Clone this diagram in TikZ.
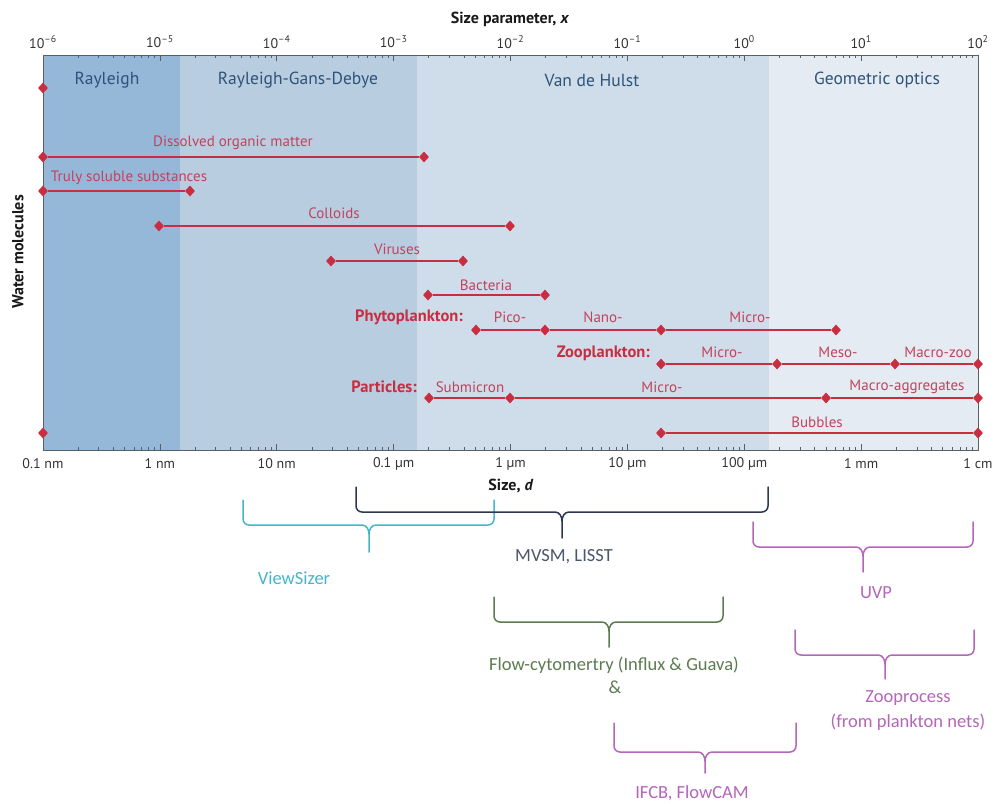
\documentclass[tikz,border=0pt]{standalone}
\usepackage{fontspec}
\setmainfont{PT Sans}
\newfontfamily\calfont{Carlito}
\usetikzlibrary{shapes.geometric}

\definecolor{rayc}{HTML}{96B8D8}
\definecolor{rgdc}{HTML}{B9CDE0}
\definecolor{vdhc}{HTML}{CFDDEA}
\definecolor{geoc}{HTML}{E4EBF3}
\definecolor{regc}{HTML}{2E5378}
\definecolor{axisc}{HTML}{5A5F66}
\definecolor{barc}{HTML}{C92D40}
\definecolor{labc}{HTML}{C2425C}
\definecolor{cyanc}{HTML}{45B6CB}
\definecolor{navyc}{HTML}{2B3850}
\definecolor{greenc}{HTML}{5C7B50}
\definecolor{magc}{HTML}{B466BA}

% bracket spanning an instrument's size range:
% #1 colour, #2 left, #3 right, #4 centre, #5 top, #6 bar level, #7 stem end
\newcommand\rangebrace[7]{%
  \draw[brc, #1] (#2,#5) -- (#2,#6-6) to[out=-90,in=180] (#2+6,#6) -- (#4-7,#6)
        to[out=0,in=90] (#4,#6+9) -- (#4,#7);
  \draw[brc, #1] (#3,#5) -- (#3,#6-6) to[out=-90,in=0] (#3-6,#6) -- (#4+7,#6)
        to[out=180,in=90] (#4,#6+9);
}

\tikzset{
  dia/.style={diamond, fill=barc, inner sep=0pt, minimum width=10pt, minimum height=11pt},
  rbar/.style={draw=barc, line width=2.6pt},
  blab/.style={text=labc, font=\fontsize{15}{17}\selectfont, inner sep=0pt},
  grp/.style={text=barc, font=\fontsize{16.5}{18}\selectfont\bfseries, inner sep=0pt},
  reg/.style={text=regc, font=\fontsize{17.5}{20}\selectfont, inner sep=0pt},
  tickline/.style={draw=axisc, line width=0.7pt},
  ticklab/.style={font=\fontsize{14}{16}\selectfont, text=black!80, inner sep=0pt},
  axtitle/.style={font=\fontsize{16}{18}\selectfont\bfseries, text=black!90, inner sep=0pt},
  brlab/.style={font=\calfont\fontsize{18.5}{22}\selectfont, inner sep=0pt},
  brc/.style={line width=1.5pt, line cap=round, line join=round}
}

\begin{document}
\begin{tikzpicture}[x=1pt,y=-1pt]
\useasboundingbox (0,0) rectangle (995,803);
\fill[white] (0,0) rectangle (995,803);

% scattering regimes
\fill[rayc] (43,55) rectangle (180,450);
\fill[rgdc] (180,55) rectangle (417,450);
\fill[vdhc] (417,55) rectangle (769,450);
\fill[geoc] (769,55) rectangle (978,450);
\draw[axisc, line width=1pt] (43,55) rectangle (978,450);

\node[reg] (r1) at (107,80) {Rayleigh};
\node[reg] (r2) at (298,80) {Rayleigh-Gans-Debye};
\node[reg] (r3) at (592,80) {Van de Hulst};
\node[reg] (r4) at (877,80) {Geometric optics};

% logarithmic ticks on both axes
\foreach \d in {0,...,7}{
  \foreach \m in {2,...,9}{
    \draw[tickline] ({43+116.875*(\d+ln(\m)/ln(10))},450) -- ++(0,-3);
    \draw[tickline] ({43+116.875*(\d+ln(\m)/ln(10))},55) -- ++(0,3);
  }
}
\foreach \d in {1,...,7}{
  \draw[tickline] ({43+116.875*\d},450) -- ++(0,-6);
  \draw[tickline] ({43+116.875*\d},55) -- ++(0,6);
}

% top axis: size parameter
\node[axtitle] (xt) at (510,19) {Size parameter, \textit{x}};
\foreach \k/\e in {0/–6,1/–5,2/–4,3/–3,4/–2,5/–1,6/0,7/1,8/2}{
  \node[ticklab] (tx\k) at ({43+116.875*\k},42) {10\textsuperscript{\e}};
}

% bottom axis: size
\foreach \k/\t in {0/0.1 nm,1/1 nm,2/10 nm,3/0.1 µm,4/1 µm,5/10 µm,6/100 µm,7/1 mm,8/1 cm}{
  \node[ticklab] (bx\k) at ({43+116.875*\k},464) {\t};
}
\node[axtitle] (bt) at (511,486) {Size, \textit{d}};

\node[axtitle, rotate=90] (wm) at (18,252) {Water molecules};

% size ranges
\node[dia] (w1) at (43,88) {};
\node[dia] (w2) at (43,433) {};

\node[dia] (dom1) at (43,157) {};
\node[dia] (dom2) at (424,157) {};
\draw[rbar] (dom1) -- (dom2);
\node[blab] (doml) at (233,143) {Dissolved organic matter};

\node[dia] (ts1) at (43,191) {};
\node[dia] (ts2) at (190,191) {};
\draw[rbar] (ts1) -- (ts2);
\node[blab] (tsl) at (129,178) {Truly soluble substances};

\node[dia] (co1) at (159,226) {};
\node[dia] (co2) at (510,226) {};
\draw[rbar] (co1) -- (co2);
\node[blab] (col) at (334,213) {Colloids};

\node[dia] (vi1) at (331,261) {};
\node[dia] (vi2) at (463,261) {};
\draw[rbar] (vi1) -- (vi2);
\node[blab] (vil) at (397,249) {Viruses};

\node[dia] (ba1) at (428,295) {};
\node[dia] (ba2) at (545,295) {};
\draw[rbar] (ba1) -- (ba2);
\node[blab] (bal) at (486,285) {Bacteria};

\node[grp, anchor=east] (phy) at (463,317) {Phytoplankton:};
\node[dia] (ph1) at (476,330) {};
\node[dia] (ph2) at (545,330) {};
\node[dia] (ph3) at (661,330) {};
\node[dia] (ph4) at (836,330) {};
\draw[rbar] (ph1) -- (ph2);
\draw[rbar] (ph2) -- (ph3);
\draw[rbar] (ph3) -- (ph4);
\node[blab] (phl1) at (510,317) {Pico-};
\node[blab] (phl2) at (603,317) {Nano-};
\node[blab] (phl3) at (750,317) {Micro-};

\node[grp, anchor=east] (zoo) at (650,353) {Zooplankton:};
\node[dia] (zo1) at (661,364) {};
\node[dia] (zo2) at (777,364) {};
\node[dia] (zo3) at (895,364) {};
\node[dia] (zo4) at (978,364) {};
\draw[rbar] (zo1) -- (zo2);
\draw[rbar] (zo2) -- (zo3);
\draw[rbar] (zo3) -- (zo4);
\node[blab] (zol1) at (722,352) {Micro-};
\node[blab] (zol2) at (838,352) {Meso-};
\node[blab] (zol3) at (938,352) {Macro-zoo};

\node[grp, anchor=east] (par) at (417,387) {Particles:};
\node[dia] (pa1) at (429,398) {};
\node[dia] (pa2) at (510,398) {};
\node[dia] (pa3) at (826,398) {};
\node[dia] (pa4) at (978,398) {};
\draw[rbar] (pa1) -- (pa2);
\draw[rbar] (pa2) -- (pa3);
\draw[rbar] (pa3) -- (pa4);
\node[blab] (pal1) at (470,387) {Submicron};
\node[blab] (pal2) at (662,387) {Micro-};
\node[blab] (pal3) at (907,387) {Macro-aggregates};

\node[dia] (bu1) at (661,433) {};
\node[dia] (bu2) at (978,433) {};
\draw[rbar] (bu1) -- (bu2);
\node[blab] (bul) at (817,422) {Bubbles};

% instrument ranges
\rangebrace{cyanc}{243}{494}{369}{500}{525}{552}
\node[brlab, text=cyanc] (vs) at (294,578) {ViewSizer};

\rangebrace{navyc}{356}{768}{562}{487}{512}{538}
\node[brlab, text=navyc!85] (mv) at (564,557) {MVSM, LISST};

\rangebrace{magc}{753}{973}{863}{522}{547}{572}
\node[brlab, text=magc] (uvp) at (876,593) {UVP};

\rangebrace{greenc}{494}{723}{609}{597}{622}{647}
\node[brlab, text=greenc] (fc) at (614,665) {Flow-cytomertry (Influx \& Guava)};
\node[brlab, text=greenc] (fcamp) at (615,687) {\&};

\rangebrace{magc}{795}{974}{885}{630}{655}{679}
\node[brlab, text=magc] (zp1) at (908,698) {Zooprocess};
\node[brlab, text=magc] (zp2) at (908,722) {(from plankton nets)};

\rangebrace{magc}{614}{796}{705}{723}{752}{773}
\node[brlab, text=magc] (ifcb) at (692,793) {IFCB, FlowCAM};
\end{tikzpicture}
\end{document}
